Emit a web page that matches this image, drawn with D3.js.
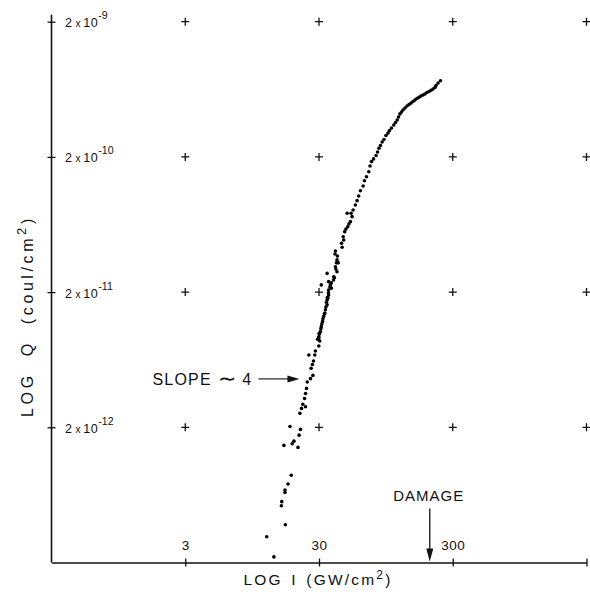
<!DOCTYPE html>
<html>
<head>
<meta charset="utf-8">
<script src="https://cdn.jsdelivr.net/npm/d3@7"></script>
<style>
  body { margin: 0; background: #fff; }
  svg { display: block; font-family: 'Liberation Sans', Arial, sans-serif; }
  .lbl { fill: #111; }
</style>
</head>
<body>
<div id="chart"></div>
<script>
// intensity I (GW/cm2) and collected charge Q (units of 1e-12 coul/cm2)
const iValues = [13.8, 12.2, 16.8, 15.7, 15.8, 16.7, 16.7, 17.6, 18.6, 16.4,
  18.9, 19.5, 20.9, 21.3, 21.8, 18.2, 21.6, 22.2, 23.8, 22.7,
  23.4, 23.8, 24.2, 24.5, 25.9, 27.0, 26.2, 26.8, 27.3, 25.2,
  27.9, 28.2, 29.9, 30.4, 29.3, 29.9, 30.7, 31.2, 31.9, 32.5,
  33.5, 34.5, 34.5, 35.4, 35.4, 36.5, 31.2, 34.5, 35.4, 38.7,
  40.9, 39.8, 40.9, 39.8, 44.7, 44.2, 45.9, 45.5, 46.7, 49.2,
  51.5, 53.0, 48.7, 52.1, 54.0, 56.1, 57.8, 59.4, 61.2, 64.1,
  65.6, 67.9, 70.7, 72.2, 74.1, 76.7, 80.1, 82.2, 84.2, 86.4,
  89.0, 91.8, 95.0, 98.4, 100.9, 104.5, 108.7, 112, 115.3, 117.9,
  120.9, 124.1, 127.4, 131.8, 136.5, 141.3, 146.3, 151.4, 156.6, 162.1,
  167.6, 173.5, 179.6, 185.9, 192.4, 199.4, 206.4, 213.7, 221.1, 224.9,
  232.9, 243, 34.6, 33.2, 30.1, 37.1, 38.5, 41.8, 47.7, 50.2,
  29.9, 30.2, 31.0, 31.5, 32.1, 32.9, 33.8, 34.1, 35.0, 35.3,
  36.2, 37.1, 39.1, 40.1, 40.5, 41.2, 39.5]
const qValues = [0.22, 0.31, 0.38, 0.526, 0.564, 0.688, 0.659, 0.761, 0.883, 1.47,
  1.51, 1.58, 1.42, 1.75, 1.93, 2.03, 2.54, 2.76, 2.84, 2.96,
  3.27, 3.56, 3.88, 4.33, 4.58, 4.84, 5.46, 5.83, 6.18, 6.85,
  6.85, 7.33, 7.98, 8.69, 8.95, 9.35, 10.2, 11.1, 12.1, 13.2,
  14.8, 16.1, 17.5, 19.0, 20.7, 22.6, 22.6, 27.5, 23.9, 26.0,
  28.3, 30.8, 34.6, 40.3, 42.9, 45.9, 48.6, 51.4, 56.0, 60.9,
  66.4, 72.3, 76.6, 76.6, 81, 88.2, 94.9, 102.7, 112.4, 121.9,
  133.4, 142.8, 155.5, 171.5, 184.6, 193.3, 205, 217.5, 231.8, 243,
  258, 269, 288, 300, 313, 327, 344, 359, 375, 395,
  416, 430, 445, 460, 476, 488, 501, 514, 527, 541,
  552, 564, 574, 584, 599, 609, 622, 636, 652, 675,
  704, 732, 18.2, 14.0, 9.88, 21.4, 24.6, 32.9, 58.6, 63.8,
  9.15, 9.80, 10.7, 11.6, 12.7, 13.8, 15.5, 16.8, 18.1, 19.8,
  21.8, 23.4, 25.5, 29.6, 32.9, 37.0, 38.3]

const xTicks = [3, 30, 300, 3000]
const xTickLabels = ['3', '30', '300', '']
const yTicks = [2000, 200, 20, 2]
const yTickExps = ['-9', '-10', '-11', '-12']
const damageI = 202
const slopeAt = { i: 21.8, q: 4.56 }

const width = 590
const height = 598
const margin = { left: 51.5, right: 3.5, top: 21.7, bottom: 35.5 }

const svg = d3.select('#chart').append('svg')
  .attr('width', width)
  .attr('height', height)

const x = d3.scaleLog().domain([0.3, 3000]).range([margin.left, width - margin.right])
const y = d3.scaleLog().domain([0.2, 2000]).range([height - margin.bottom, margin.top])

// grid crosses
const cross = []
xTicks.forEach(a => yTicks.forEach(b => cross.push([a, b])))
const g = svg.append('g')
g.selectAll('.cross')
  .data(cross)
  .enter().append('path')
  .attr('class', 'cross')
  .attr('d', d => `M${x(d[0]) - 4},${y(d[1])}h8M${x(d[0])},${y(d[1]) - 4}v8`)
  .attr('stroke', '#111')
  .attr('stroke-width', 1.3)

// x axis
const xAxis = svg.append('g')
  .attr('transform', `translate(0,${y(0.2)})`)
  .call(d3.axisBottom(x).tickValues(xTicks).tickSizeOuter(0).tickFormat((d, i) => xTickLabels[i]))
xAxis.select('.domain').attr('stroke', '#111').attr('stroke-width', 1.6)
xAxis.selectAll('.tick line').attr('y1', -4).attr('y2', 4).attr('stroke', '#111').attr('stroke-width', 1.3)
xAxis.selectAll('.tick text')
  .attr('y', -13).attr('dy', 0)
  .attr('font-size', 13.5)
  .attr('font-family', "'Liberation Sans', Arial, sans-serif")
  .attr('fill', '#111')
  .attr('letter-spacing', 0.5)

// y axis
const yAxis = svg.append('g')
  .attr('transform', `translate(${x(0.3)},0)`)
  .call(d3.axisLeft(y).tickValues(yTicks).tickSizeOuter(0).tickFormat(''))
yAxis.select('.domain').remove()
yAxis.append('line')
  .attr('y1', y(0.2)).attr('y2', y(2000) - 7)
  .attr('stroke', '#111').attr('stroke-width', 1.6)
yAxis.selectAll('.tick line').attr('x1', -4).attr('x2', 4).attr('stroke', '#111').attr('stroke-width', 1.3)

const yLab = svg.append('g')
  .selectAll('text')
  .data(yTicks)
  .enter().append('text')
  .attr('class', 'lbl')
  .attr('x', x(0.3) + 13.5)
  .attr('y', d => y(d) + 5.5)
  .attr('font-size', 12.5)
yLab.append('tspan').text('2 ')
yLab.append('tspan').attr('font-size', 10).text('x ')
yLab.append('tspan').attr('letter-spacing', 0.6).text('10')
yLab.append('tspan')
  .attr('dy', -8)
  .attr('font-size', 10.5)
  .text((d, i) => yTickExps[i])

// axis titles
const xt = svg.append('text')
  .attr('class', 'lbl')
  .attr('x', 318)
  .attr('y', 585)
  .attr('text-anchor', 'middle')
  .attr('font-size', 15.5)
  .attr('letter-spacing', 2.2)
  .attr('word-spacing', 2)
xt.append('tspan').text('LOG I (GW/cm')
xt.append('tspan').attr('dy', -6).attr('font-size', 12).text('2')
xt.append('tspan').attr('dy', 6).text(')')

const yt = svg.append('text')
  .attr('class', 'lbl')
  .attr('transform', `translate(33,${316}) rotate(-90)`)
  .attr('text-anchor', 'middle')
  .attr('font-size', 16)
  .attr('letter-spacing', 3.6)
  .attr('word-spacing', 8)
yt.append('tspan').text('LOG Q (coul/cm')
yt.append('tspan').attr('dy', -7).attr('font-size', 13).text('2')
yt.append('tspan').attr('dy', 7).text(')')

// data points
svg.append('g')
  .selectAll('circle')
  .data(iValues.map((v, i) => [v, qValues[i]]))
  .enter().append('circle')
  .attr('cx', d => x(d[0]))
  .attr('cy', d => y(d[1]))
  .attr('r', 1.8)
  .attr('fill', '#000')

// slope annotation
const sx = x(slopeAt.i)
const sy = y(slopeAt.q)
svg.append('line')
  .attr('x1', sx - 42).attr('y1', sy).attr('x2', sx - 11).attr('y2', sy)
  .attr('stroke', '#222').attr('stroke-width', 1.2)
svg.append('path')
  .attr('d', `M${sx - 1},${sy}L${sx - 13},${sy - 3.5}L${sx - 13},${sy + 3.5}Z`)
  .attr('fill', '#111')
const st = svg.append('text')
  .attr('class', 'lbl')
  .attr('x', sx - 48)
  .attr('y', sy + 6)
  .attr('text-anchor', 'end')
  .attr('font-size', 16)
  .attr('letter-spacing', 1.2)
st.append('tspan').text('SLOPE ')
st.append('tspan').attr('font-size', 22).attr('dy', 1).text('\u223C')
st.append('tspan').attr('dy', -1).text(' 4')

// damage annotation
const dx = x(damageI)
svg.append('line')
  .attr('x1', dx).attr('y1', y(0.2) - 54).attr('x2', dx).attr('y2', y(0.2) - 10)
  .attr('stroke', '#111').attr('stroke-width', 1.3)
svg.append('path')
  .attr('d', `M${dx},${y(0.2) - 1}L${dx - 3.5},${y(0.2) - 14}L${dx + 3.5},${y(0.2) - 14}Z`)
  .attr('fill', '#111')
svg.append('text')
  .attr('class', 'lbl')
  .attr('x', dx - 1)
  .attr('y', y(0.2) - 62)
  .attr('text-anchor', 'middle')
  .attr('font-size', 15)
  .attr('letter-spacing', 1)
  .text('DAMAGE')
</script>
</body>
</html>
